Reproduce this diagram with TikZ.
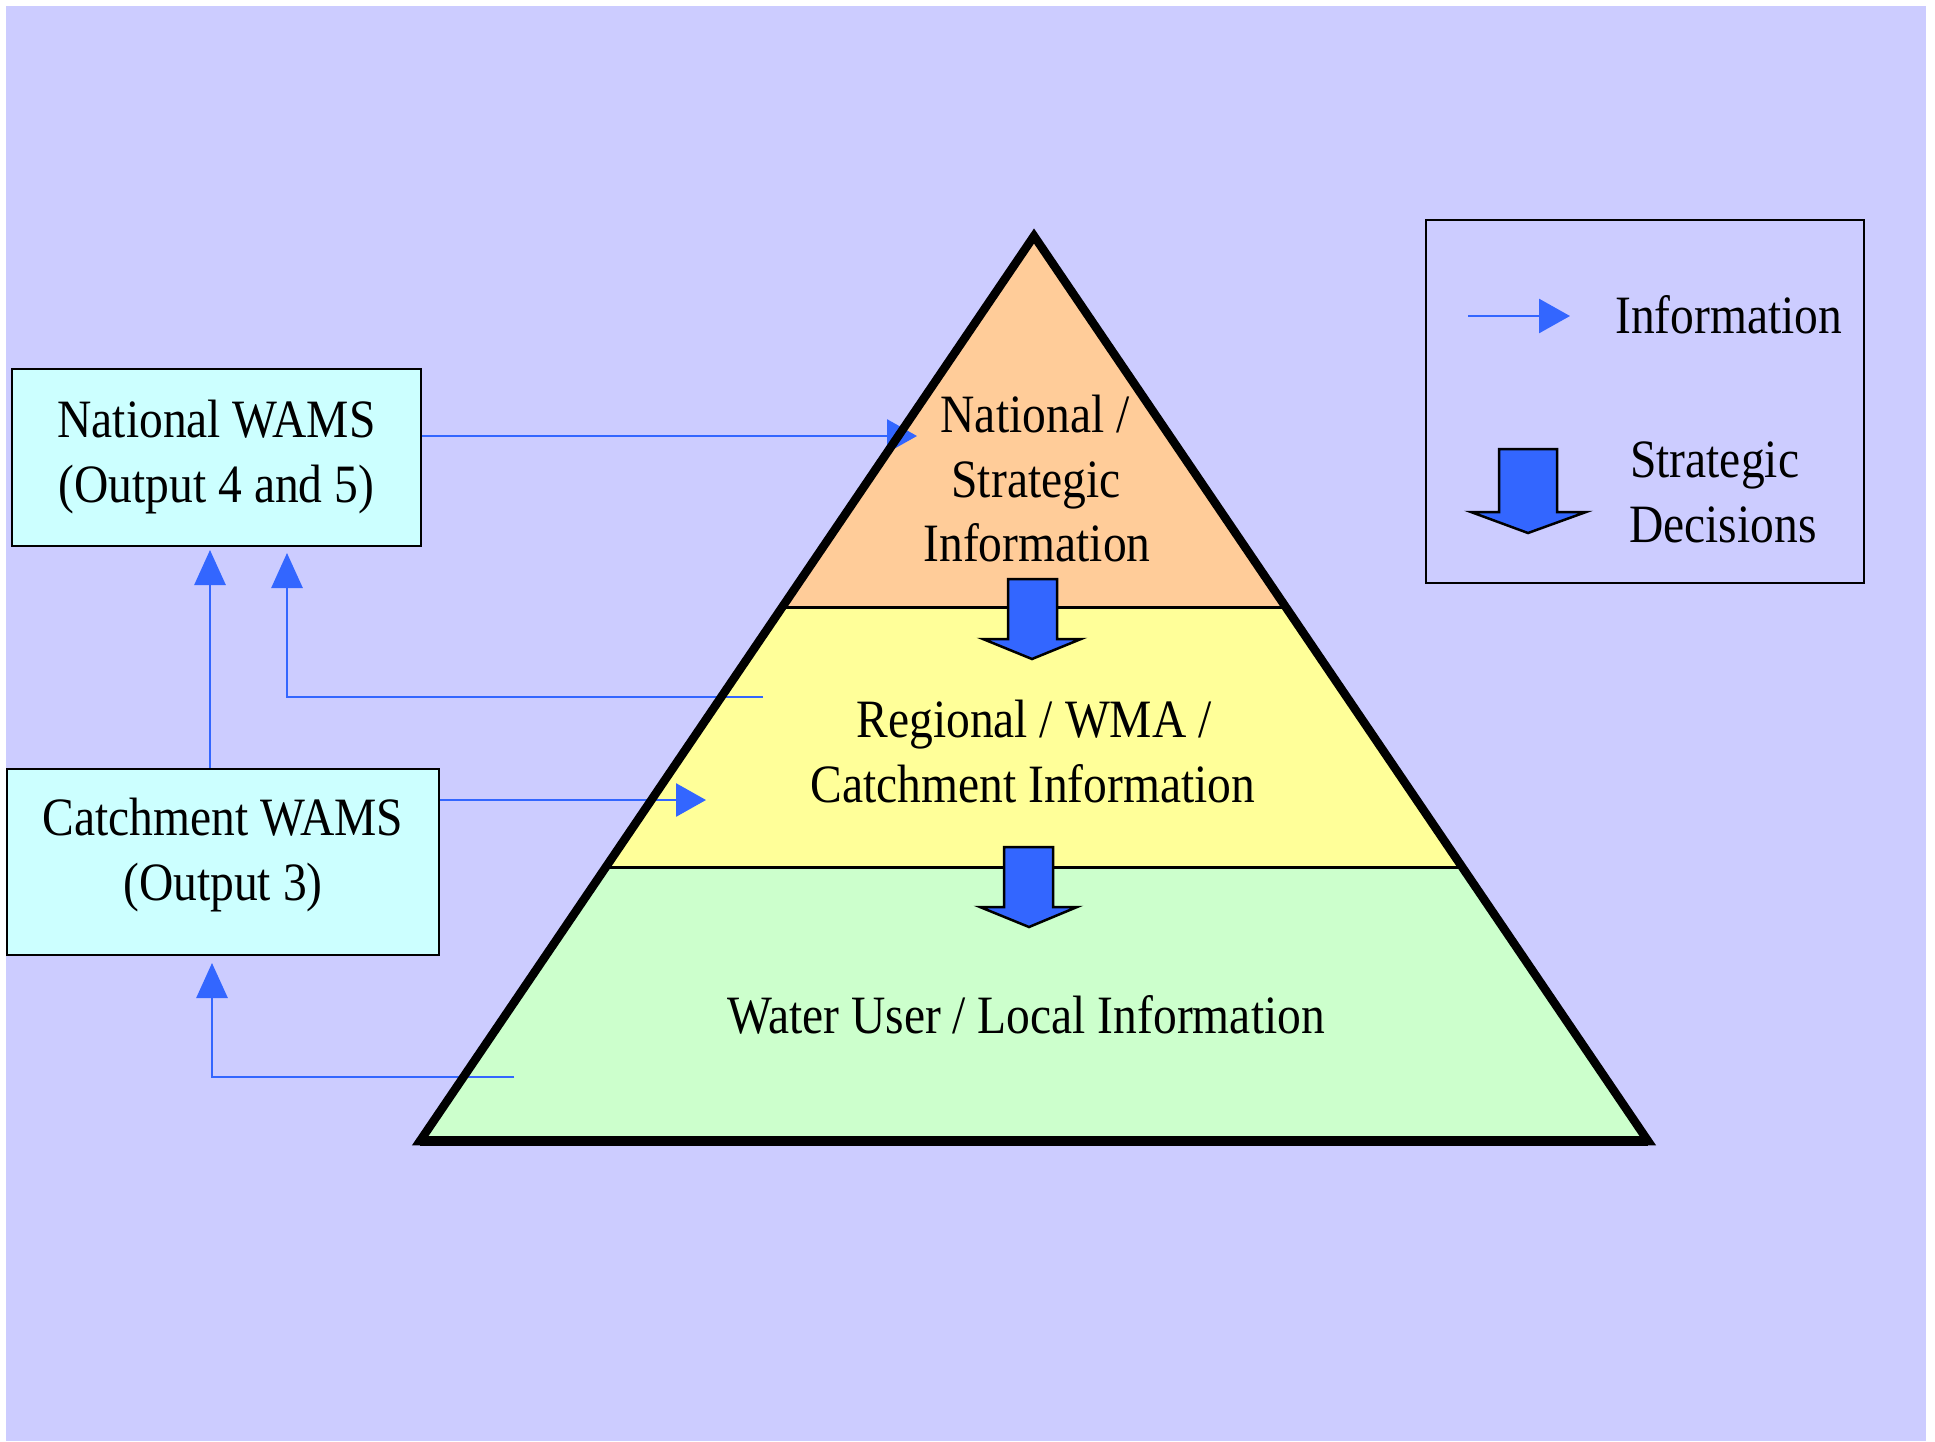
\documentclass[tikz,border=0pt]{standalone}
\usepackage{fontspec}
\newfontfamily\tnr[FakeStretch=0.88]{Liberation Serif}
\usetikzlibrary{arrows.meta,calc}
\definecolor{bgc}{HTML}{CCCCFF}
\definecolor{boxc}{HTML}{CCFFFF}
\definecolor{peach}{HTML}{FFCC99}
\definecolor{yel}{HTML}{FFFF99}
\definecolor{grn}{HTML}{CCFFCC}
\definecolor{blu}{HTML}{3366FF}
\begin{document}
\begin{tikzpicture}[x=1pt,y=-1pt,
  lbl/.style={font=\tnr\fontsize{54}{65}\selectfont, inner sep=0pt, text=black},
  wams/.style={lbl, draw=black, line width=2.5pt, fill=boxc, align=center},
  info/.style={draw=blu, line width=2.8pt, -{Triangle[length=30pt,width=33pt]}},
  infov/.style={draw=blu, line width=2.8pt, -{Triangle[length=35pt,width=31pt]}},
  decision/.style={fill=blu, draw=black, line width=2.5pt, line join=miter},
  divider/.style={draw=black, line width=3pt},
  outline/.style={draw=black, line width=8.5pt, line join=miter}]
\useasboundingbox (0,0) rectangle (1935,1441);
\fill[white] (0,0) rectangle (1935,1441);
\fill[bgc] (6,6) rectangle (1926,1441);

% pyramid geometry
\coordinate (apex) at (1034,236);
\coordinate (bl) at (420,1141);
\coordinate (br) at (1648,1141);
\coordinate (l1) at ($(apex)!0.40994!(bl)$);
\coordinate (r1) at ($(apex)!0.40994!(br)$);
\coordinate (l2) at ($(apex)!0.69724!(bl)$);
\coordinate (r2) at ($(apex)!0.69724!(br)$);
\fill[peach] (apex) -- (l1) -- (r1) -- cycle;
\fill[yel] (l1) -- (r1) -- (r2) -- (l2) -- cycle;
\fill[grn] (l2) -- (r2) -- (br) -- (bl) -- cycle;

% boxes
\node[wams, minimum width=409pt, minimum height=177pt] (nat) at (216.5,457.5)
  {National WAMS\\(Output 4 and 5)};
\node[wams, minimum width=432pt, minimum height=186pt, text depth=26pt] (cat) at (223,862)
  {Catchment WAMS\\(Output 3)};

% information connectors
\coordinate (tipA) at (917,436);
\coordinate (tipB) at (706,800);
\coordinate (tipC) at (210,550);
\coordinate (tipD) at (287,553);
\coordinate (tipE) at (212,963);
\coordinate (srcD) at (763,697);
\coordinate (srcE) at (514,1077);
\draw[info] (nat.east |- tipA) -- (tipA);
\draw[info] (cat.east |- tipB) -- (tipB);
\draw[infov] (cat.north -| tipC) -- (tipC);
\draw[infov] (srcD) -- (srcD -| tipD) -- (tipD);
\draw[infov] (srcE) -- (srcE -| tipE) -- (tipE);

% dividers and outline
\draw[divider] (l1) -- (r1);
\draw[divider] (l2) -- (r2);
\draw[outline] (apex) -- (br) -- (bl) -- cycle;
\draw[draw=black, line width=10pt] (bl) -- (br);

% strategic decision arrows
\draw[decision] (1008,579) -- (1057,579) -- (1057,639) -- (1081,639) -- (1032,659) -- (983,639) -- (1008,639) -- cycle;
\draw[decision] (1004,847) -- (1053,847) -- (1053,907) -- (1077,907) -- (1029,927) -- (980,907) -- (1004,907) -- cycle;

% pyramid texts
\node[lbl, anchor=base] (t1a) at (1035,432) {National /};
\node[lbl, anchor=base] (t1b) at (1036,497) {Strategic};
\node[lbl, anchor=base] (t1c) at (1037,561) {Information};
\node[lbl, anchor=base] (t2a) at (1034,737) {Regional / WMA /};
\node[lbl, anchor=base] (t2b) at (1033,802) {Catchment Information};
\node[lbl, anchor=base] (t3) at (1026,1033) {Water User / Local Information};

% legend
\node[draw=black, line width=2.5pt, minimum width=438pt, minimum height=363pt, inner sep=0pt] (legend) at (1645,401.5) {};
\coordinate (legA) at (1468,316);
\coordinate (legB) at (1570,316);
\draw[draw=blu, line width=2.8pt, -{Triangle[length=31pt,width=34pt]}] (legA) -- (legB);
\node[lbl, anchor=base west] (legInfo) at (1615,333) {Information};
\draw[decision] (1499,449) -- (1557,449) -- (1557,512) -- (1586,512) -- (1528,533) -- (1471,512) -- (1499,512) -- cycle;
\node[lbl, anchor=base west] (legS1) at (1630,477) {Strategic};
\node[lbl, anchor=base west] (legS2) at (1629,542) {Decisions};
\end{tikzpicture}
\end{document}
